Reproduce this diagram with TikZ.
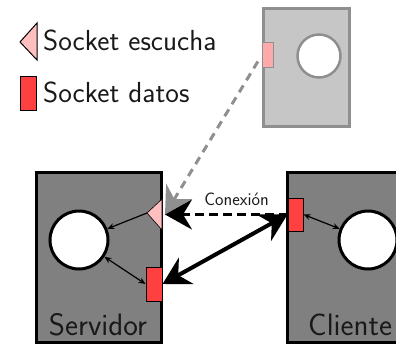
\documentclass[tikz,border=0pt]{standalone}
\usetikzlibrary{arrows.meta}
\definecolor{hostgray}{HTML}{808080}
\definecolor{ghostfill}{HTML}{C6C6C6}
\definecolor{ghostline}{HTML}{8F8F8F}
\definecolor{datared}{HTML}{FF4040}
\definecolor{listenpink}{HTML}{FFBFBF}
\definecolor{ghostpink}{HTML}{FFAAAA}
\begin{document}
\begin{tikzpicture}[x=1pt,y=-1pt,
  host/.style={draw=black, line width=3pt, fill=hostgray, inner sep=0pt,
    minimum width=125pt, minimum height=170pt},
  ghost/.style={draw=ghostline, line width=2.7pt, fill=ghostfill, inner sep=0pt},
  proc/.style={circle, draw=black, line width=3pt, fill=white, inner sep=0pt, minimum size=58pt},
  datasock/.style={draw=black, line width=1pt, fill=datared, inner sep=0pt},
  listensock/.style={draw=black, line width=0.6pt, fill=listenpink},
  biglabel/.style={font=\sffamily\fontsize{31}{34}\selectfont, inner sep=0pt, text=black!90},
  legendlabel/.style={font=\sffamily\fontsize{29}{32}\selectfont, inner sep=0pt, text=black!90},
  smalllabel/.style={font=\sffamily\fontsize{18}{20}\selectfont, inner sep=0pt, text=black!90},
  local/.style={line width=1.2pt, -{Stealth[length=7pt,width=6pt]}},
  localboth/.style={line width=1.2pt, {Stealth[length=7pt,width=6pt]}-{Stealth[length=7pt,width=6pt]}},
  link/.style={line width=4pt, {Stealth[length=27pt,width=30pt,inset=9pt]}-{Stealth[length=27pt,width=30pt,inset=9pt]}},
  request/.style={line width=3pt, dash pattern=on 9pt off 5pt, -{Stealth[length=27pt,width=30pt,inset=9pt]}},
  fork/.style={draw=ghostline, line width=3pt, dash pattern=on 8pt off 6pt, -{Stealth[length=27pt,width=30pt,inset=9pt]}}
]
\clip (0,0) rectangle (396,345);

% legend
\draw[listensock, line width=1pt] (20,42) -- (37,23) -- (37,60) -- cycle;
\node[legendlabel, anchor=base west] (lgl) at (43,51) {Socket escucha};
\node[datasock, minimum width=16pt, minimum height=34pt] (lgd) at (28.5,93.5) {};
\node[legendlabel, anchor=base west] (lgdl) at (43,102) {Socket datos};

% forked copy of the server
\node[ghost, minimum width=86pt, minimum height=118pt] (gbox) at (306.5,67.5) {};
\node[circle, draw=ghostline, line width=2.5pt, fill=white, inner sep=0pt, minimum size=43pt] (gcirc) at (319,56) {};
\node[draw=ghostline, line width=1pt, fill=ghostpink, inner sep=0pt, minimum width=11pt, minimum height=25pt] (gsock) at (267.5,55.5) {};

% server
\node[host] (srv) at (99,257.5) {};
\node[proc] (scirc) at (79,240) {};
\draw[listensock] (147,213) -- (162,199) -- (162,230) -- cycle;
\coordinate (lst) at (147,213);
\coordinate (lin) at (165,214.5);
\node[datasock, minimum width=16pt, minimum height=34pt] (sdat) at (154,284) {};
\node[biglabel, anchor=base] (srvl) at (98,335) {Servidor};

% client
\node[host] (cli) at (350,257.5) {};
\node[proc] (ccirc) at (368,240) {};
\node[datasock, minimum width=15pt, minimum height=33pt] (cdat) at (295.5,214.5) {};
\node[biglabel, anchor=base west] (clil) at (308,335) {Cliente};

% connectors
\draw[local] (lst) -- (scirc);
\draw[localboth] (scirc) -- (sdat.west);
\draw[localboth] (cdat.east) -- (ccirc);
\draw[fork, shorten <=7pt] (gsock.west) -- (lin);
\draw[request] (cdat.west) -- (lin);
\node[smalllabel, anchor=base] (conl) at (236.5,205) {Conexión};
\draw[link] (sdat.east) -- (cdat.west);
\end{tikzpicture}
\end{document}
